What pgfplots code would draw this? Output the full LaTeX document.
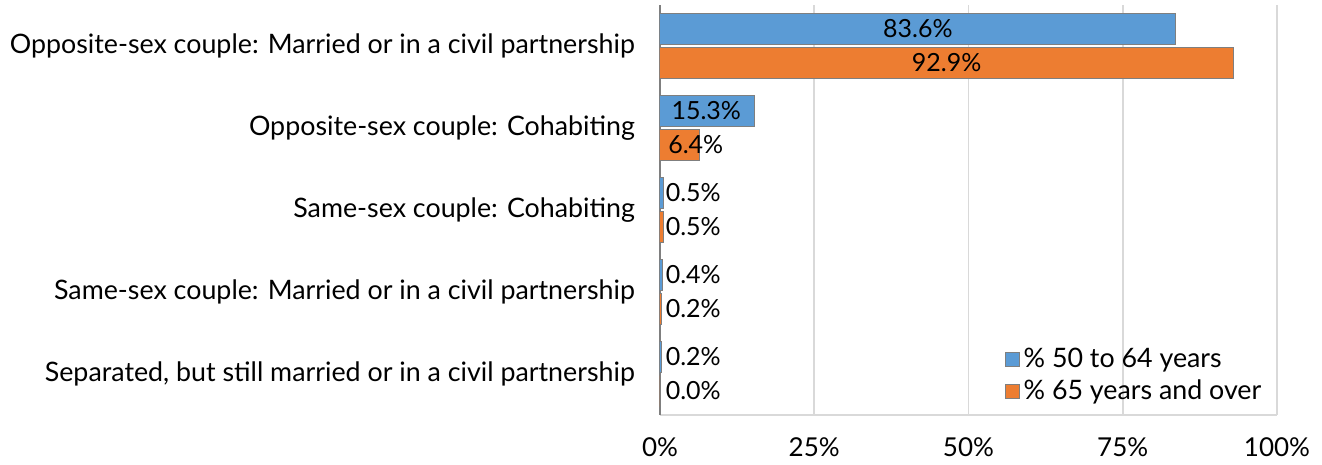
\documentclass[border=0pt]{standalone}
\usepackage{fontspec}
\setmainfont{Lato}
\usepackage{pgfplots}
\pgfplotsset{compat=1.18}
\definecolor{cblue}{HTML}{5B9BD5}
\definecolor{corange}{HTML}{ED7D31}
\definecolor{cgrid}{HTML}{D9D9D9}
\definecolor{cedge}{HTML}{7F7F7F}
\begin{document}
\begin{tikzpicture}
\path[use as bounding box] (-330pt,-25pt) rectangle (331pt,207.5pt);
\begin{axis}[
  at={(0,0)}, anchor=south west,
  scale only axis, width=308.5pt, height=205pt,
  xmin=0, xmax=100, ymin=-0.5, ymax=4.5,
  y dir=reverse,
  xbar, bar width=15.5pt,
  axis x line*=bottom, axis y line*=left,
  axis line style={cedge, line width=0.6pt},
  x axis line style={-, cgrid, line width=0.8pt},
  y axis line style={-},
  xtick={0,25,50,75,100},
  xticklabels={0\%,25\%,50\%,75\%,100\%},
  xmajorgrids, major grid style={cgrid, line width=0.8pt},
  major tick length=0pt,
  ytick={0,1,2,3,4},
  yticklabels={Opposite-sex couple: Married or in a civil partnership,
    Opposite-sex couple: Cohabiting,
    Same-sex couple: Cohabiting,
    Same-sex couple: Married or in a civil partnership,
    {Separated, but still married or in a civil partnership}},
  yticklabel style={font=\fontsize{13.4}{15}\selectfont, xshift=-9pt},
  xticklabel style={font=\fontsize{13}{15}\selectfont, yshift=-8pt},
  /pgf/number format/assume math mode=true,
  legend style={at={(0.985,0.015)}, anchor=south east, draw=none, fill=none,
    font=\fontsize{13.4}{15}\selectfont, row sep=0.5pt, inner sep=1pt},
  legend cell align=left,
  legend image code/.code={\draw[#1, draw=cedge, line width=0.4pt] (0pt,-3.5pt) rectangle (7pt,3.5pt);},
  nodes near coords style={font=\fontsize{12.5}{14}\selectfont, text=black},
]
\addplot[fill=cblue, draw=cedge, line width=0.5pt, bar shift=8.5pt] coordinates {(83.6,0) (15.3,1) (0.5,2) (0.4,3) (0.2,4)};
\addlegendentry{\% 50 to 64 years}
\addplot[fill=corange, draw=cedge, line width=0.5pt, bar shift=-8.5pt] coordinates {(92.9,0) (6.4,1) (0.5,2) (0.2,3) (0.0,4)};
\addlegendentry{\% 65 years and over}
\addplot[draw=none, fill=none, bar shift=8.5pt, forget plot, point meta=explicit symbolic,
  nodes near coords, nodes near coords align={center}, every node near coord/.append style={anchor=center, xshift=0pt}]
  coordinates {(41.8,0) [83.6\%] (7.5,1) [15.3\%] (5.4,2) [0.5\%] (5.4,3) [0.4\%] (5.4,4) [0.2\%]};
\addplot[draw=none, fill=none, bar shift=-8.5pt, forget plot, point meta=explicit symbolic,
  nodes near coords, nodes near coords align={center}, every node near coord/.append style={anchor=center, xshift=0pt}]
  coordinates {(46.45,0) [92.9\%] (5.8,1) [6.4\%] (5.4,2) [0.5\%] (5.4,3) [0.2\%] (5.4,4) [0.0\%]};
\end{axis}
\end{tikzpicture}
\end{document}
